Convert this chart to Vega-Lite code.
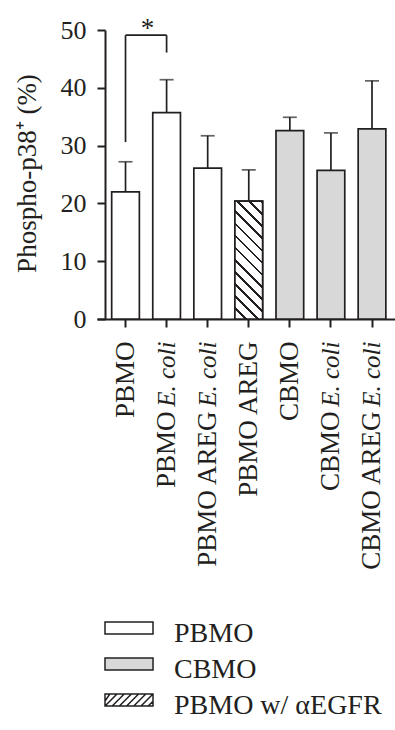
{
  "$schema": "https://vega.github.io/schema/vega-lite/v6.json",
  "width": 298,
  "height": 289,
  "autosize": "none",
  "padding": {"left": 97, "top": 30, "right": 0, "bottom": 411},
  "background": "white",
  "config": {"view": {"stroke": null}, "font": "Liberation Serif"},
  "datasets": {
    "bars": [
      {"group": "PBMO", "value": 22.0, "upper": 27.2, "legend": "PBMO"},
      {"group": "PBMO E. coli", "value": 35.7, "upper": 41.4, "legend": "PBMO"},
      {"group": "PBMO AREG E. coli", "value": 26.1, "upper": 31.7, "legend": "PBMO"},
      {"group": "PBMO AREG", "value": 20.4, "upper": 25.8, "legend": "PBMO w/ αEGFR"},
      {"group": "CBMO", "value": 32.6, "upper": 34.9, "legend": "CBMO"},
      {"group": "CBMO E. coli", "value": 25.7, "upper": 32.2, "legend": "CBMO"},
      {"group": "CBMO AREG E. coli", "value": 32.9, "upper": 41.2, "legend": "CBMO"}
    ],
    "legs": [
      {"group": "PBMO", "y": 30.6, "y2": 49.1},
      {"group": "PBMO E. coli", "y": 46.1, "y2": 49.1}
    ],
    "span": [
      {"group": "PBMO", "group2": "PBMO E. coli", "y": 49.1, "label": "*"}
    ]
  },
  "layer": [
    {
      "data": {"name": "bars"},
      "mark": {"type": "bar", "stroke": "#231f20", "strokeWidth": 1.7},
      "encoding": {
        "x": {
          "field": "group", "type": "nominal", "sort": null,
          "scale": {
            "domain": ["PBMO", "PBMO E. coli", "PBMO AREG E. coli", "PBMO AREG", "CBMO", "CBMO E. coli", "CBMO AREG E. coli"],
            "paddingInner": 0.326, "paddingOuter": 0.29, "align": 0.616
          },
          "axis": {
            "orient": "bottom", "title": null, "grid": false,
            "domainColor": "#231f20", "domainWidth": 2,
            "tickColor": "#231f20", "tickWidth": 2, "tickSize": 8,
            "labelAngle": -90, "labelAlign": "right", "labelBaseline": "middle",
            "labelFont": "Liberation Serif",
            "labelFontSize": {"condition": {"test": "indexof(datum.value, 'E. coli') >= 0", "value": 25}, "value": 27},
            "labelFontStyle": {"condition": {"test": "indexof(datum.value, 'E. coli') >= 0", "value": "italic"}, "value": "normal"},
            "labelExpr": "indexof(datum.value, 'E. coli') >= 0 ? 'E. coli' : datum.value",
            "labelPadding": 14, "labelLimit": 1000, "labelOverlap": false, "labelFlush": false,
            "labelColor": "#231f20"
          }
        },
        "y": {
          "field": "value", "type": "quantitative",
          "scale": {"domain": [0, 50]},
          "axis": {
            "title": "Phospho-p38⁺ (%)", "values": [0, 10, 20, 30, 40, 50], "offset": -8, "grid": false,
            "domainColor": "#231f20", "domainWidth": 2,
            "tickColor": "#231f20", "tickWidth": 2, "tickSize": 8,
            "labelFont": "Liberation Serif", "labelFontSize": 26, "labelPadding": 11, "labelColor": "#231f20",
            "labelFlush": false,
            "titleFont": "Liberation Serif", "titleFontSize": 27, "titleFontWeight": "normal", "titleColor": "#231f20",
            "titleAngle": -90, "titleX": -70, "titleY": 143, "titleAlign": "center", "titleBaseline": "alphabetic"
          }
        },
        "fill": {
          "field": "legend", "type": "nominal",
          "scale": {"domain": ["PBMO", "CBMO", "PBMO w/ αEGFR"], "range": ["white", "#d8d8d9", "white"]},
          "legend": {
            "orient": "none", "legendX": 18, "legendY": 590, "title": null, "direction": "vertical",
            "symbolType": "M-2,-1H2V0H-2Z", "symbolSize": 576,
            "symbolStrokeColor": "#231f20", "symbolStrokeWidth": 1.5,
            "labelFont": "Liberation Serif", "labelFontSize": 28, "labelColor": "#231f20",
            "labelOffset": 31, "rowPadding": 7, "padding": 0, "labelLimit": 1000,
            "encoding": {
              "symbols": {
                "shape": {
                  "condition": {"test": "datum.value === 'PBMO w/ αEGFR'", "value": "M-2,-1H2V0H-2Z M-2,-0.4L-1.6,-1 M-2,0L-1,-1 M-1.4,0L-0.4,-1 M-0.8,0L0.2,-1 M-0.2,0L0.8,-1 M0.4,0L1.4,-1 M1,0L2,-1 M1.6,0L2,-0.4"},
                  "value": "M-2,-1H2V0H-2Z"
                }
              }
            }
          }
        }
      }
    },
    {
      "data": {"name": "bars"},
      "transform": [{"filter": "datum.legend === 'PBMO w/ αEGFR'"}],
      "mark": {
        "type": "bar", "stroke": "#231f20", "strokeWidth": 1.7,
        "fill": {
          "gradient": "linear", "x1": 0, "y1": 1, "x2": 0.275, "y2": -0.17,
          "stops": [
            {"offset": 0, "color": "white"}, {"offset": 0.065, "color": "white"}, {"offset": 0.065, "color": "#231f20"}, {"offset": 0.0833, "color": "#231f20"},
            {"offset": 0.0833, "color": "white"}, {"offset": 0.1483, "color": "white"}, {"offset": 0.1483, "color": "#231f20"}, {"offset": 0.1667, "color": "#231f20"},
            {"offset": 0.1667, "color": "white"}, {"offset": 0.2317, "color": "white"}, {"offset": 0.2317, "color": "#231f20"}, {"offset": 0.25, "color": "#231f20"},
            {"offset": 0.25, "color": "white"}, {"offset": 0.315, "color": "white"}, {"offset": 0.315, "color": "#231f20"}, {"offset": 0.3333, "color": "#231f20"},
            {"offset": 0.3333, "color": "white"}, {"offset": 0.3983, "color": "white"}, {"offset": 0.3983, "color": "#231f20"}, {"offset": 0.4167, "color": "#231f20"},
            {"offset": 0.4167, "color": "white"}, {"offset": 0.4817, "color": "white"}, {"offset": 0.4817, "color": "#231f20"}, {"offset": 0.5, "color": "#231f20"},
            {"offset": 0.5, "color": "white"}, {"offset": 0.565, "color": "white"}, {"offset": 0.565, "color": "#231f20"}, {"offset": 0.5833, "color": "#231f20"},
            {"offset": 0.5833, "color": "white"}, {"offset": 0.6483, "color": "white"}, {"offset": 0.6483, "color": "#231f20"}, {"offset": 0.6667, "color": "#231f20"},
            {"offset": 0.6667, "color": "white"}, {"offset": 0.7317, "color": "white"}, {"offset": 0.7317, "color": "#231f20"}, {"offset": 0.75, "color": "#231f20"},
            {"offset": 0.75, "color": "white"}, {"offset": 0.815, "color": "white"}, {"offset": 0.815, "color": "#231f20"}, {"offset": 0.8333, "color": "#231f20"},
            {"offset": 0.8333, "color": "white"}, {"offset": 0.8983, "color": "white"}, {"offset": 0.8983, "color": "#231f20"}, {"offset": 0.9167, "color": "#231f20"},
            {"offset": 0.9167, "color": "white"}, {"offset": 0.9817, "color": "white"}, {"offset": 0.9817, "color": "#231f20"}, {"offset": 1, "color": "#231f20"}
          ]
        }
      },
      "encoding": {
        "x": {
          "field": "group", "type": "nominal", "sort": null,
          "axis": {
            "orient": "bottom", "title": null, "grid": false, "domain": false, "ticks": false,
            "labelAngle": -90, "labelAlign": "right", "labelBaseline": "middle",
            "labelFont": "Liberation Serif", "labelFontSize": 27,
            "labelExpr": "indexof(datum.value, 'E. coli') >= 0 ? replace(datum.value, ' E. coli', '') : ''",
            "labelPadding": 92, "labelLimit": 1000, "labelOverlap": false, "labelFlush": false,
            "labelColor": "#231f20"
          }
        },
        "y": {"field": "value", "type": "quantitative"}
      }
    },
    {
      "data": {"name": "bars"},
      "mark": {"type": "rule", "color": "#231f20", "strokeWidth": 1.7},
      "encoding": {
        "x": {"field": "group", "type": "nominal", "sort": null, "axis": null},
        "y": {"field": "value", "type": "quantitative"},
        "y2": {"field": "upper"}
      }
    },
    {
      "data": {"name": "bars"},
      "mark": {"type": "tick", "color": "#231f20", "thickness": 1.7, "size": 14},
      "encoding": {
        "x": {"field": "group", "type": "nominal", "sort": null, "axis": null},
        "y": {"field": "upper", "type": "quantitative"}
      }
    },
    {
      "data": {"name": "legs"},
      "mark": {"type": "rule", "color": "#231f20", "strokeWidth": 1.7},
      "encoding": {
        "x": {"field": "group", "type": "nominal", "sort": null, "axis": null},
        "y": {"field": "y", "type": "quantitative"},
        "y2": {"field": "y2"}
      }
    },
    {
      "data": {"name": "span"},
      "mark": {"type": "rule", "color": "#231f20", "strokeWidth": 1.7},
      "encoding": {
        "x": {"field": "group", "type": "nominal", "sort": null, "axis": null},
        "x2": {"field": "group2"},
        "y": {"field": "y", "type": "quantitative"}
      }
    },
    {
      "data": {"name": "span"},
      "mark": {"type": "text", "color": "#231f20", "font": "Liberation Serif", "fontSize": 27, "baseline": "alphabetic", "align": "center", "dx": 22, "dy": 2},
      "encoding": {
        "x": {"field": "group", "type": "nominal", "sort": null, "axis": null},
        "y": {"field": "y", "type": "quantitative"},
        "text": {"field": "label"}
      }
    }
  ],
  "resolve": {"axis": {"x": "independent"}}
}
